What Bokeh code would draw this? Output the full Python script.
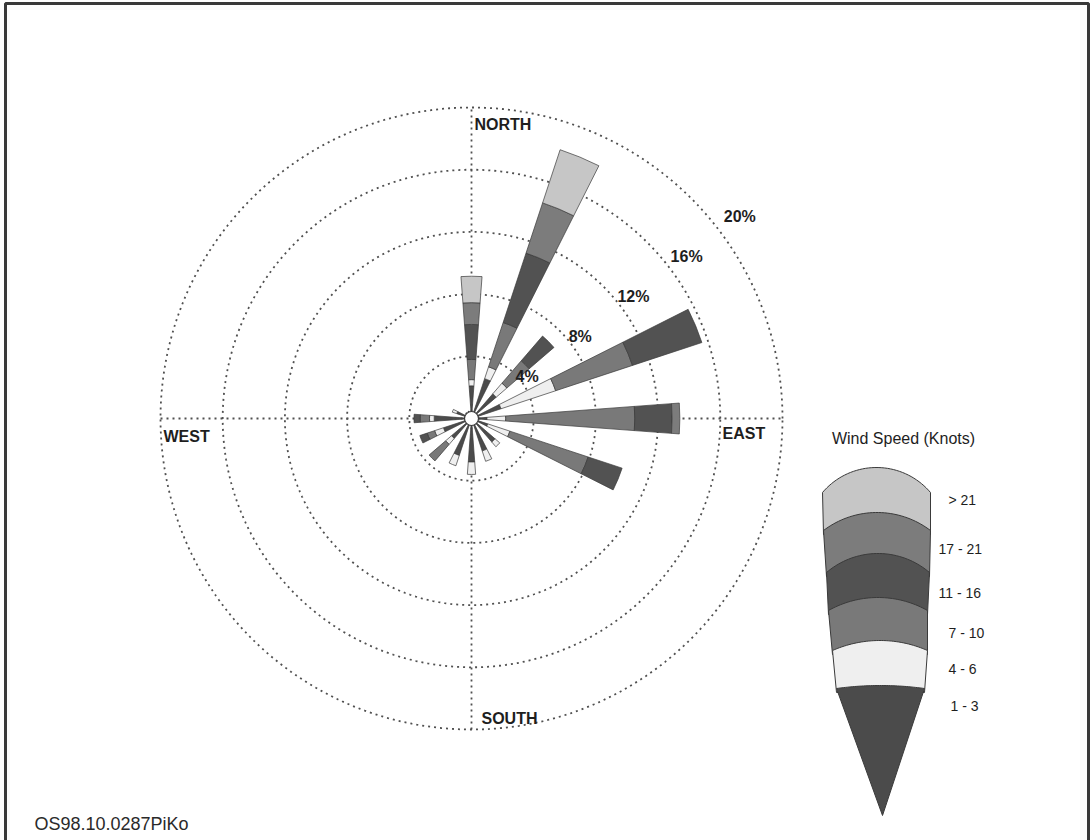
import numpy as np
from bokeh.plotting import figure
from bokeh.models import ColumnDataSource, Range1d
from bokeh.core.properties import value
from bokeh.embed import file_html
from bokeh.resources import INLINE

# ---- data: wind frequency (% of observations) by direction and speed class ----
directions = ["N", "NNE", "NE", "ENE", "E", "ESE", "SE", "SSE",
              "S", "SSW", "SW", "WSW", "W", "WNW", "NW", "NNW"]
speed_bins = ["1 - 3", "4 - 6", "7 - 10", "11 - 16", "17 - 21", "> 21"]

freq_1_3   = [2.1, 2.7, 2.1, 2.0, 1.0, 1.1, 2.0, 2.2, 2.8, 2.5, 1.7, 1.9, 2.4, 1.0, 0.5, 0.5]
freq_4_6   = [0.4, 0.8, 0.9, 3.7, 1.2, 1.5, 0.4, 0.7, 0.8, 0.7, 0.5, 0.6, 0.3, 0.3, 0.0, 0.0]
freq_7_10  = [1.3, 3.0, 1.9, 5.2, 8.3, 5.3, 0.0, 0.0, 0.0, 0.0, 1.4, 0.5, 0.6, 0.0, 0.0, 0.0]
freq_11_16 = [2.25, 4.7, 2.1, 4.7, 2.4, 2.3, 0.0, 0.0, 0.0, 0.0, 0.0, 0.5, 0.4, 0.0, 0.0, 0.0]
freq_17_21 = [1.4, 3.4, 0.0, 0.0, 0.5, 0.0, 0.0, 0.0, 0.0, 0.0, 0.0, 0.0, 0.0, 0.0, 0.0, 0.0]
freq_gt_21 = [1.7, 3.6, 0.0, 0.0, 0.0, 0.0, 0.0, 0.0, 0.0, 0.0, 0.0, 0.0, 0.0, 0.0, 0.0, 0.0]

ring_levels = [4, 8, 12, 16, 20]
ring_labels = ["4%", "8%", "12%", "16%", "20%"]
compass_labels = ["NORTH", "EAST", "SOUTH", "WEST"]
footer_text = "OS98.10.0287PiKo"
legend_title = "Wind Speed (Knots)"

# ---- styling ----
bin_colors = ["#4b4b4b", "#efefef", "#797979", "#525252", "#7c7c7c", "#c6c6c6"]
FONT = "Liberation Sans"
TXT = "#1e1e1e"
GRID = "#505050"

W, H = 1091, 840
CX, CY = 471.0, 418.0      # rose centre on the page (px)
S = 15.55                   # px per percent


def to_data(px, py):
    return (px - CX) / S, (CY - py) / S


p = figure(width=W, height=H, output_backend="svg", toolbar_location=None,
           x_axis_location=None, y_axis_location=None, min_border=0,
           x_range=Range1d(-CX / S, (W - CX) / S),
           y_range=Range1d(-(H - CY) / S, CY / S))
p.grid.grid_line_color = None
p.outline_line_color = None
p.background_fill_color = "white"
p.border_fill_color = "white"

# page frame
fx0, fy0 = to_data(5, 3)
fx1, fy1 = to_data(1088, 860)
p.line([fx0, fx0, fx1, fx1], [fy1, fy0, fy0, fy1], line_color="#3a3a3a", line_width=3)

# ---- grid rings and cross hairs ----
rmax = ring_levels[-1]
for r in ring_levels:
    th = np.linspace(0, 2 * np.pi, 400)
    p.line(r * np.cos(th), r * np.sin(th), line_color=GRID,
           line_width=1.8, line_dash="2 4")
p.line([0, 0], [-rmax, rmax], line_color=GRID, line_width=1.8, line_dash="2 4")
p.line([-rmax, rmax], [0, 0], line_color=GRID, line_width=1.8, line_dash="2 4")

# ---- rose petals: stacked annular wedges ----
series = [freq_1_3, freq_4_6, freq_7_10, freq_11_16, freq_17_21, freq_gt_21]
half_w = np.radians(4.25)
inner, outer, start, end, color = [], [], [], [], []
for i, d in enumerate(directions):
    bearing = i * 22.5
    ang = np.radians(90.0 - bearing)
    cum = 0.0
    for k, vals in enumerate(series):
        v = vals[i]
        if v <= 0:
            continue
        inner.append(cum)
        outer.append(cum + v)
        start.append(ang - half_w)
        end.append(ang + half_w)
        color.append(bin_colors[k])
        cum += v

petals = ColumnDataSource(dict(x=[0.0] * len(inner), y=[0.0] * len(inner),
                               inner=inner, outer=outer, start=start, end=end,
                               color=color))
p.annular_wedge(x="x", y="y", inner_radius="inner", outer_radius="outer",
                start_angle="start", end_angle="end", fill_color="color",
                line_color="#3a3a3a", line_width=0.7, source=petals)

# calm circle at the centre
p.circle(x=[0], y=[0], radius=0.45, fill_color="white", line_color="#3a3a3a",
         line_width=1.2)

# ---- ring labels along a diagonal ----
lab_ang = np.radians(37.0)
rl = [r * 1.07 + 0.2 for r in ring_levels]
p.text(x=[r * np.cos(lab_ang) for r in rl], y=[r * np.sin(lab_ang) for r in rl],
       text=ring_labels, text_font=value(FONT), text_font_size="16px",
       text_font_style="bold", text_color=TXT, text_align="center",
       text_baseline="middle")

# ---- compass labels ----
pos = {"NORTH": (474, 124), "EAST": (722, 433), "SOUTH": (481, 718), "WEST": (163, 436)}
cx_ = [to_data(*pos[n])[0] for n in compass_labels]
cy_ = [to_data(*pos[n])[1] for n in compass_labels]
p.text(x=cx_, y=cy_, text=compass_labels, text_font=value(FONT),
       text_font_size="16px", text_font_style="bold", text_color=TXT,
       text_align="left", text_baseline="middle")

# ---- speed legend: stacked curved bands narrowing to a point ----
def arc_top(xl, xr, y_side, sag, n=40):
    h = (xr - xl) / 2.0
    xc = (xl + xr) / 2.0
    if sag <= 0:
        return [xl, xr], [y_side, y_side]
    R = (h * h + sag * sag) / (2.0 * sag)
    yc = y_side - sag + R
    phi = np.arcsin(h / R)
    a = np.linspace(-phi, phi, n)
    return list(xc + R * np.sin(a)), list(yc - R * np.cos(a))

band_geom = [  # (xl_top, xr_top, y_side, sag, xl_bot, xr_bot, y_bot) in px
    (822, 930, 492, 25, 823, 930, 534),
    (823, 930, 530, 18, 826, 929, 576),
    (826, 929, 572, 19, 828, 927, 614),
    (828, 927, 610, 13, 832, 927, 654),
    (832, 927, 650, 10, 836, 924, 692),
]
xs_l, ys_l = [], []
for (xl, xr, ys, sag, xlb, xrb, yb) in band_geom:
    ax, ay = arc_top(xl, xr, ys, sag)
    px_ = ax + [xrb, xlb]
    py_ = ay + [yb, yb]
    d = [to_data(a, b) for a, b in zip(px_, py_)]
    xs_l.append([q[0] for q in d])
    ys_l.append([q[1] for q in d])
# last band is the pointed tip
ax, ay = arc_top(836, 924, 688, 3)
px_ = ax + [882]
py_ = ay + [815]
d = [to_data(a, b) for a, b in zip(px_, py_)]
xs_l.append([q[0] for q in d])
ys_l.append([q[1] for q in d])

legend_colors = list(reversed(bin_colors))  # top band is the fastest class
p.patches(xs=xs_l, ys=ys_l, fill_color=legend_colors, line_color="#3a3a3a",
          line_width=1)

lab_px = [(948, 499), (938, 548), (938, 592), (948, 632), (948, 668), (950, 705)]
leg_labels = list(reversed(speed_bins))
p.text(x=[to_data(*q)[0] for q in lab_px], y=[to_data(*q)[1] for q in lab_px],
       text=leg_labels, text_font=value(FONT), text_font_size="14px",
       text_color=TXT, text_align="left", text_baseline="middle")

tx, ty = to_data(903, 438)
p.text(x=[tx], y=[ty], text=[legend_title], text_font=value(FONT),
       text_font_size="16px", text_color=TXT, text_align="center",
       text_baseline="middle")

fx, fy = to_data(34, 823)
p.text(x=[fx], y=[fy], text=[footer_text], text_font=value(FONT),
       text_font_size="18px", text_color="#2a2a2a", text_align="left",
       text_baseline="middle")

open("out.html", "w").write(file_html(p, INLINE))
